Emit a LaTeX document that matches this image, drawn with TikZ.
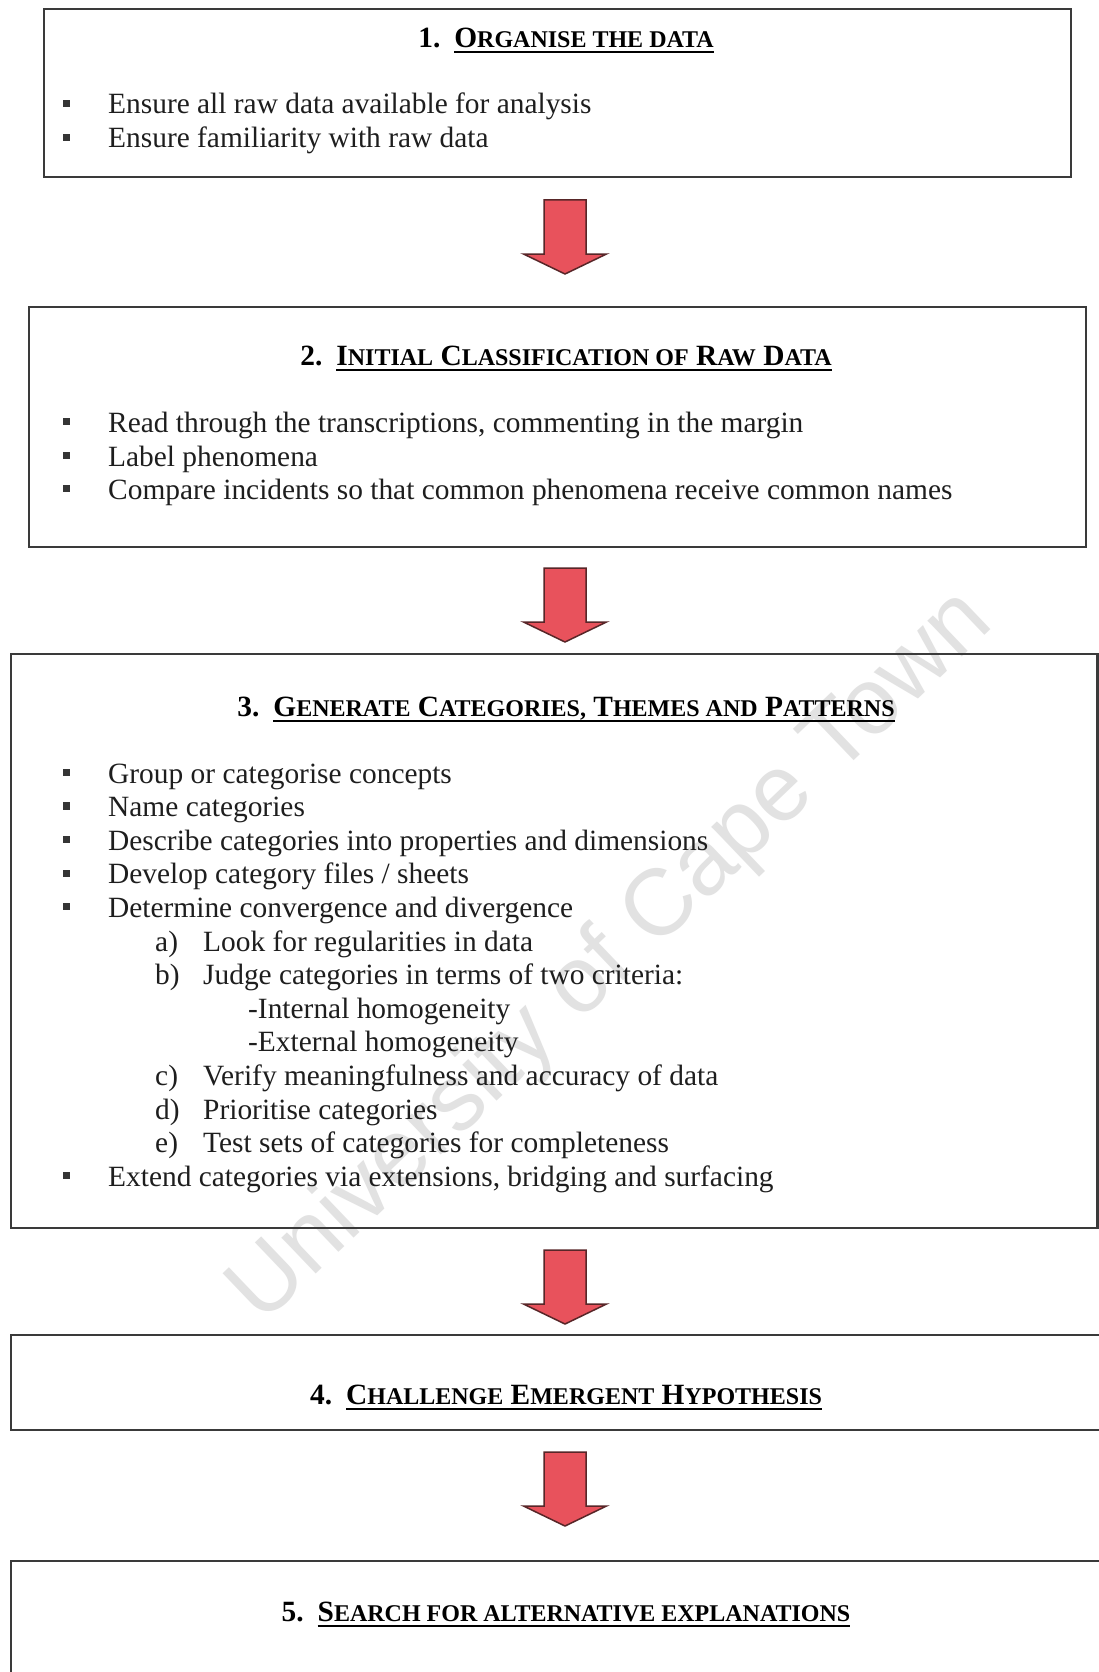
\documentclass[tikz,border=0pt]{standalone}
\usepackage{fontspec}
\setmainfont{Liberation Serif}
\newfontfamily\wmfont{Liberation Sans}

% type sizes (1pt of the picture = 1 unit)
\newcommand\bodysize{\fontsize{29.4}{33.6}\selectfont}
\newcommand\scsize{\fontsize{24}{24}\selectfont}
% small capitals built by hand: initial at full size, the rest reduced
\newcommand\fsc[2]{#1{\scsize #2}}
% thick underline under a heading
\newsavebox\ulbox
\newcommand\ulined[1]{\sbox\ulbox{#1}\rlap{\rule[-5.8pt]{\wd\ulbox}{2.3pt}}\usebox\ulbox}

\definecolor{framec}{RGB}{58,58,58}
\definecolor{arrowfill}{RGB}{232,82,92}
\definecolor{arrowline}{RGB}{88,38,40}
\definecolor{wmgray}{RGB}{226,226,226}
\definecolor{textc}{RGB}{30,30,30}

\tikzset{
  stagebox/.style={draw=framec, line width=2.2pt},
  ttl/.style={anchor=base, inner sep=0pt, font=\bodysize\bfseries, text=black},
  txt/.style={anchor=base west, inner sep=0pt, font=\bodysize, text=textc},
  bulletc/.style={fill=textc!90},
  barrow/.style={fill=arrowfill, draw=arrowline, line width=1.5pt, line join=miter},
  wm/.style={inner sep=0pt, font=\wmfont\fontsize{94}{94}\selectfont, text=wmgray}
}

% bulleted line: name, baseline y, text
\newcommand\bitem[3]{%
  \node[txt] (#1) at (108,#2) {#3};
  \fill[bulletc] ([xshift=-45.3pt,yshift=7pt]#1.base west) rectangle ++(7.3pt,7.3pt);
}
% lettered line: name, baseline y, letter, text
\newcommand\litem[4]{%
  \node[txt] (#1l) at (155,#2) {#3};
  \node[txt] (#1) at (203,#2) {#4};
}
% block arrow pointing down: name, top y
\newcommand\blockarr[2]{%
  \coordinate (#1) at (565,#2);
  \draw[barrow] (#1) ++(-21,0) -- ++(42,0) -- ++(0,54) -- ++(20.5,0)
    -- ++(-41.5,20) -- ++(-41.5,-20) -- ++(20.5,0) -- cycle;
}

\begin{document}
\begin{tikzpicture}[x=1pt,y=-1pt]
\useasboundingbox (0,0) rectangle (1099,1672);
\clip (0,0) rectangle (1099,1672);
\fill[white] (0,0) rectangle (1099,1672);

% watermark
\node[wm, rotate=43.7] (wm) at (612,958) {University of Cape Town};

% stage frames
\draw[stagebox] (44,9) rectangle (1071,177);
\draw[stagebox] (29,307) rectangle (1086,547);
\draw[stagebox] (11,654) rectangle (1097.5,1228);
\draw[stagebox] (11,1335) rectangle (1130,1430);
\draw[stagebox] (11,1561) rectangle (1130,1700);

% 1
\node[ttl] (t1) at (566,47.5) {1.\hspace{14pt}\ulined{\fsc{O}{RGANISE THE DATA}}};
\bitem{p1}{114}{Ensure all raw data available for analysis}
\bitem{p2}{148}{Ensure familiarity with raw data}

\blockarr{a1}{200}

% 2
\node[ttl] (t2) at (566,365) {2.\hspace{14pt}\ulined{\fsc{I}{NITIAL} \fsc{C}{LASSIFICATION OF} \fsc{R}{AW} \fsc{D}{ATA}}};
\bitem{q1}{432}{Read through the transcriptions, commenting in the margin}
\bitem{q2}{466}{Label phenomena}
\bitem{q3}{499}{Compare incidents so that common phenomena receive common names}

\blockarr{a2}{568}

% 3
\node[ttl] (t3) at (566,716) {3.\hspace{14pt}\ulined{\fsc{G}{ENERATE} \fsc{C}{ATEGORIES,} \fsc{T}{HEMES AND} \fsc{P}{ATTERNS}}};
\bitem{r1}{783}{Group or categorise concepts}
\bitem{r2}{816.6}{Name categories}
\bitem{r3}{850.2}{Describe categories into properties and dimensions}
\bitem{r4}{883.8}{Develop category files / sheets}
\bitem{r5}{917.4}{Determine convergence and divergence}
\litem{ra}{951}{a)}{Look for regularities in data}
\litem{rb}{984.6}{b)}{Judge categories in terms of two criteria:}
\node[txt] (rb1) at (248,1018.2) {-Internal homogeneity};
\node[txt] (rb2) at (248,1051.8) {-External homogeneity};
\litem{rc}{1085.4}{c)}{Verify meaningfulness and accuracy of data}
\litem{rd}{1119}{d)}{Prioritise categories}
\litem{re}{1152.6}{e)}{Test sets of categories for completeness}
\bitem{r6}{1186.2}{Extend categories via extensions, bridging and surfacing}

\blockarr{a3}{1250}

% 4
\node[ttl] (t4) at (566,1404) {4.\hspace{14pt}\ulined{\fsc{C}{HALLENGE} \fsc{E}{MERGENT} \fsc{H}{YPOTHESIS}}};

\blockarr{a4}{1452}

% 5
\node[ttl] (t5) at (566,1621) {5.\hspace{14pt}\ulined{\fsc{S}{EARCH FOR ALTERNATIVE EXPLANATIONS}}};
\end{tikzpicture}
\end{document}
